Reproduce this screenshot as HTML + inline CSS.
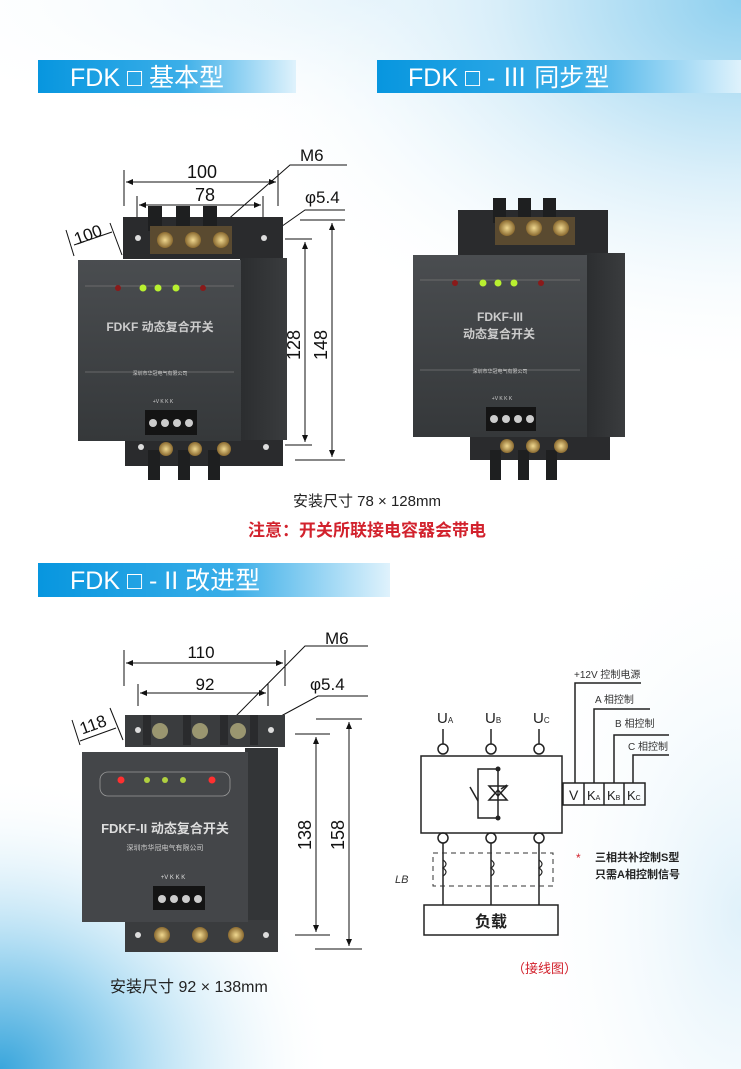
<!DOCTYPE html>
<html><head><meta charset="utf-8"><style>
html,body{margin:0;padding:0;width:741px;height:1069px;overflow:hidden;background:#fff}
svg{display:block}
text{font-family:"Liberation Sans","Noto Sans CJK SC",sans-serif}
</style></head><body>
<svg width="741" height="1069" viewBox="0 0 741 1069" xmlns="http://www.w3.org/2000/svg">
<defs>
<radialGradient id="bgTR" cx="1" cy="0" r="1"><stop offset="0" stop-color="#8fd0ef"/><stop offset="0.45" stop-color="#d8eef9"/><stop offset="1" stop-color="#fff" stop-opacity="0"/></radialGradient>
<radialGradient id="bgTL" cx="0.5" cy="0" r="0.7"><stop offset="0" stop-color="#e4f3fb"/><stop offset="1" stop-color="#fff" stop-opacity="0"/></radialGradient>
<radialGradient id="bgBL" cx="0" cy="1" r="0.8"><stop offset="0" stop-color="#3aa6dc"/><stop offset="0.4" stop-color="#a9daf2"/><stop offset="1" stop-color="#fff" stop-opacity="0"/></radialGradient>
<radialGradient id="bgBR" cx="1" cy="0.7" r="0.8"><stop offset="0" stop-color="#e0f1fa"/><stop offset="1" stop-color="#fff" stop-opacity="0"/></radialGradient>
<linearGradient id="bar" x1="0" x2="1"><stop offset="0" stop-color="#0796df"/><stop offset="0.55" stop-color="#3aaee8"/><stop offset="1" stop-color="#dff2fc"/></linearGradient>
<linearGradient id="front" x1="0" x2="0" y1="0" y2="1"><stop offset="0" stop-color="#4a4d50"/><stop offset="1" stop-color="#35383a"/></linearGradient>
<linearGradient id="side" x1="0" x2="1"><stop offset="0" stop-color="#2b2d2f"/><stop offset="1" stop-color="#3a3c3e"/></linearGradient>
<radialGradient id="scr"><stop offset="0" stop-color="#f0d890"/><stop offset="1" stop-color="#8a6a30"/></radialGradient>
</defs>
<rect width="741" height="1069" fill="#fff"/>
<rect x="0" y="0" width="741" height="200" fill="url(#bgTL)"/>
<rect x="200" y="0" width="541" height="380" fill="url(#bgTR)"/>
<rect x="0" y="700" width="420" height="369" fill="url(#bgBL)"/>
<rect x="450" y="550" width="291" height="519" fill="url(#bgBR)"/>

<!-- header bars -->
<rect x="38" y="60" width="258" height="33" fill="url(#bar)"/>
<text x="70" y="86" font-size="25" fill="#fff">FDK □ 基本型</text>
<rect x="377" y="60" width="364" height="33" fill="url(#bar)"/>
<text x="408" y="86" font-size="25" fill="#fff">FDK □ - Ⅲ 同步型</text>
<rect x="38" y="563" width="352" height="34" fill="url(#bar)"/>
<text x="70" y="589" font-size="25" fill="#fff">FDK □ - II 改进型</text>

<!-- ===== Device 1 ===== -->
<g stroke="#111" stroke-width="1" fill="none">
<line x1="124" y1="170" x2="124" y2="206"/><line x1="278" y1="170" x2="278" y2="206"/>
<line x1="126" y1="182" x2="276" y2="182"/>
<line x1="137" y1="196" x2="137" y2="218"/><line x1="263" y1="196" x2="263" y2="218"/>
<line x1="139" y1="205" x2="261" y2="205"/>
<polyline points="225,222 290,165 347,165"/>
<polyline points="268,236 305,210 345,210"/>
<line x1="285" y1="239" x2="312" y2="239"/><line x1="285" y1="445" x2="312" y2="445"/>
<line x1="305" y1="242" x2="305" y2="442"/>
<line x1="300" y1="220" x2="345" y2="220"/><line x1="295" y1="460" x2="345" y2="460"/>
<line x1="332" y1="223" x2="332" y2="457"/>
<line x1="74" y1="245" x2="112" y2="232"/>
<line x1="110" y1="223" x2="122" y2="255"/><line x1="66" y1="230" x2="74" y2="256"/>
</g>
<g fill="#111">
<path d="M126,182 l7,-3 v6z"/><path d="M276,182 l-7,-3 v6z"/>
<path d="M139,205 l7,-3 v6z"/><path d="M261,205 l-7,-3 v6z"/>
<path d="M305,242 l-3,7 h6z"/><path d="M305,442 l-3,-7 h6z"/>
<path d="M332,223 l-3,7 h6z"/><path d="M332,457 l-3,-7 h6z"/>
</g>
<text x="202" y="178" font-size="18" text-anchor="middle" fill="#111">100</text>
<text x="205" y="201" font-size="18" text-anchor="middle" fill="#111">78</text>
<text x="300" y="161" font-size="17" fill="#111">M6</text>
<text x="305" y="203" font-size="17" fill="#111">φ5.4</text>
<text transform="translate(90,240) rotate(-20)" font-size="17" text-anchor="middle" fill="#111">100</text>
<text transform="translate(300,345) rotate(-90)" font-size="18" text-anchor="middle" fill="#111">128</text>
<text transform="translate(327,345) rotate(-90)" font-size="18" text-anchor="middle" fill="#111">148</text>

<rect x="123" y="217" width="160" height="42" fill="#2a2b2d"/>
<rect x="148" y="206" width="14" height="25" fill="#1e1f20"/><rect x="176" y="206" width="14" height="25" fill="#1e1f20"/><rect x="203" y="206" width="14" height="25" fill="#1e1f20"/>
<rect x="150" y="226" width="82" height="28" fill="#5a4a30"/>
<circle cx="165" cy="240" r="8" fill="url(#scr)"/><circle cx="193" cy="240" r="8" fill="url(#scr)"/><circle cx="221" cy="240" r="8" fill="url(#scr)"/>
<circle cx="138" cy="238" r="3" fill="#ddd"/><circle cx="264" cy="238" r="3" fill="#ddd"/>
<rect x="125" y="438" width="158" height="28" fill="#2a2b2d"/>
<rect x="148" y="450" width="12" height="30" fill="#1e1f20"/><rect x="178" y="450" width="12" height="30" fill="#1e1f20"/><rect x="208" y="450" width="12" height="30" fill="#1e1f20"/>
<circle cx="166" cy="449" r="7" fill="url(#scr)"/><circle cx="195" cy="449" r="7" fill="url(#scr)"/><circle cx="224" cy="449" r="7" fill="url(#scr)"/>
<circle cx="141" cy="447" r="3" fill="#ddd"/><circle cx="266" cy="447" r="3" fill="#ddd"/>
<rect x="240" y="258" width="47" height="182" fill="url(#side)"/>
<rect x="78" y="260" width="163" height="181" fill="url(#front)"/>
<line x1="85" y1="286" x2="234" y2="286" stroke="#777" stroke-width="0.7"/>
<circle cx="118" cy="288" r="3" fill="#8a1a1a"/><circle cx="143" cy="288" r="3.5" fill="#b8f030"/><circle cx="158" cy="288" r="3.5" fill="#b8f030"/><circle cx="176" cy="288" r="3.5" fill="#b8f030"/><circle cx="203" cy="288" r="3" fill="#8a1a1a"/>
<text x="160" y="331" font-size="12" font-weight="bold" text-anchor="middle" fill="#ccc">FDKF 动态复合开关</text>
<line x1="85" y1="372" x2="234" y2="372" stroke="#777" stroke-width="0.7"/>
<text x="160" y="375" font-size="5" text-anchor="middle" fill="#ccc">深圳市华冠电气有限公司</text>
<text x="163" y="403" font-size="5" text-anchor="middle" fill="#ccc">+V K  K  K</text>
<rect x="145" y="410" width="52" height="25" fill="#141414"/>
<circle cx="153" cy="423" r="4" fill="#ccc"/><circle cx="165" cy="423" r="4" fill="#ccc"/><circle cx="177" cy="423" r="4" fill="#ccc"/><circle cx="189" cy="423" r="4" fill="#ccc"/>

<!-- ===== Device 2 ===== -->
<rect x="458" y="210" width="150" height="45" fill="#2a2b2d"/>
<rect x="493" y="198" width="13" height="25" fill="#1e1f20"/><rect x="518" y="198" width="13" height="25" fill="#1e1f20"/><rect x="543" y="198" width="13" height="25" fill="#1e1f20"/>
<rect x="495" y="217" width="80" height="28" fill="#5a4a30"/>
<circle cx="507" cy="228" r="8" fill="url(#scr)"/><circle cx="534" cy="228" r="8" fill="url(#scr)"/><circle cx="561" cy="228" r="8" fill="url(#scr)"/>
<rect x="470" y="435" width="140" height="25" fill="#2a2b2d"/>
<rect x="490" y="450" width="11" height="30" fill="#1e1f20"/><rect x="518" y="450" width="11" height="30" fill="#1e1f20"/><rect x="546" y="450" width="11" height="30" fill="#1e1f20"/>
<circle cx="507" cy="446" r="7" fill="url(#scr)"/><circle cx="533" cy="446" r="7" fill="url(#scr)"/><circle cx="561" cy="446" r="7" fill="url(#scr)"/>
<rect x="585" y="253" width="40" height="184" fill="url(#side)"/>
<rect x="413" y="255" width="174" height="182" fill="url(#front)"/>
<line x1="420" y1="280" x2="580" y2="280" stroke="#777" stroke-width="0.7"/>
<circle cx="455" cy="283" r="3" fill="#8a1a1a"/><circle cx="483" cy="283" r="3.5" fill="#b8f030"/><circle cx="498" cy="283" r="3.5" fill="#b8f030"/><circle cx="514" cy="283" r="3.5" fill="#b8f030"/><circle cx="541" cy="283" r="3" fill="#8a1a1a"/>
<text x="500" y="321" font-size="12" font-weight="bold" text-anchor="middle" fill="#ccc">FDKF-III</text>
<text x="499" y="338" font-size="12" font-weight="bold" text-anchor="middle" fill="#ccc">动态复合开关</text>
<line x1="420" y1="370" x2="580" y2="370" stroke="#777" stroke-width="0.7"/>
<text x="500" y="373" font-size="5" text-anchor="middle" fill="#ccc">深圳市华冠电气有限公司</text>
<text x="502" y="400" font-size="5" text-anchor="middle" fill="#ccc">+V K  K  K</text>
<rect x="486" y="407" width="50" height="24" fill="#141414"/>
<circle cx="494" cy="419" r="4" fill="#ccc"/><circle cx="506" cy="419" r="4" fill="#ccc"/><circle cx="518" cy="419" r="4" fill="#ccc"/><circle cx="530" cy="419" r="4" fill="#ccc"/>

<text x="367" y="506" font-size="15" text-anchor="middle" fill="#222">安装尺寸  78 × 128mm</text>
<text x="367" y="536" font-size="17" font-weight="bold" text-anchor="middle" fill="#d2222d">注意：开关所联接电容器会带电</text>

<!-- ===== Device 3 ===== -->
<g stroke="#111" stroke-width="1" fill="none">
<line x1="124" y1="650" x2="124" y2="686"/><line x1="285" y1="650" x2="285" y2="686"/>
<line x1="126" y1="663" x2="283" y2="663"/>
<line x1="138" y1="684" x2="138" y2="706"/><line x1="268" y1="684" x2="268" y2="706"/>
<line x1="140" y1="693" x2="266" y2="693"/>
<polyline points="236,716 305,646 368,646"/>
<polyline points="270,722 318,696 368,696"/>
<line x1="295" y1="734" x2="330" y2="734"/><line x1="295" y1="935" x2="330" y2="935"/>
<line x1="316" y1="737" x2="316" y2="932"/>
<line x1="316" y1="719" x2="362" y2="719"/><line x1="315" y1="949" x2="362" y2="949"/>
<line x1="349" y1="722" x2="349" y2="946"/>
<line x1="80" y1="741" x2="116" y2="728"/><line x1="110" y1="708" x2="123" y2="740"/><line x1="72" y1="720" x2="80" y2="745"/>
</g>
<g fill="#111">
<path d="M126,663 l7,-3 v6z"/><path d="M283,663 l-7,-3 v6z"/>
<path d="M140,693 l7,-3 v6z"/><path d="M266,693 l-7,-3 v6z"/>
<path d="M316,737 l-3,7 h6z"/><path d="M316,932 l-3,-7 h6z"/>
<path d="M349,722 l-3,7 h6z"/><path d="M349,946 l-3,-7 h6z"/>
</g>
<text x="201" y="658" font-size="17" text-anchor="middle" fill="#111">110</text>
<text x="205" y="690" font-size="17" text-anchor="middle" fill="#111">92</text>
<text x="325" y="644" font-size="17" fill="#111">M6</text>
<text x="310" y="690" font-size="17" fill="#111">φ5.4</text>
<text transform="translate(95,730) rotate(-20)" font-size="17" text-anchor="middle" fill="#111">118</text>
<text transform="translate(311,835) rotate(-90)" font-size="18" text-anchor="middle" fill="#111">138</text>
<text transform="translate(344,835) rotate(-90)" font-size="18" text-anchor="middle" fill="#111">158</text>

<rect x="125" y="715" width="160" height="32" fill="#3a3c3e"/>
<rect x="143" y="715" width="8" height="30" fill="#2a2b2d"/><rect x="183" y="715" width="8" height="30" fill="#2a2b2d"/><rect x="220" y="715" width="8" height="30" fill="#2a2b2d"/><rect x="250" y="715" width="8" height="30" fill="#2a2b2d"/>
<circle cx="160" cy="731" r="8" fill="#9a9670"/><circle cx="200" cy="731" r="8" fill="#9a9670"/><circle cx="238" cy="731" r="8" fill="#9a9670"/>
<circle cx="138" cy="730" r="3" fill="#ddd"/><circle cx="271" cy="730" r="3" fill="#ddd"/>
<rect x="125" y="918" width="153" height="34" fill="#3a3c3e"/>
<circle cx="162" cy="935" r="8" fill="url(#scr)"/><circle cx="200" cy="935" r="8" fill="url(#scr)"/><circle cx="236" cy="935" r="8" fill="url(#scr)"/>
<circle cx="138" cy="935" r="3" fill="#ddd"/><circle cx="266" cy="935" r="3" fill="#ddd"/>
<rect x="245" y="748" width="33" height="172" fill="#333537"/>
<rect x="82" y="752" width="166" height="170" fill="#444649"/>
<rect x="100" y="772" width="130" height="24" rx="8" fill="none" stroke="#999" stroke-width="0.8"/>
<circle cx="121" cy="780" r="3.5" fill="#ff3030"/><circle cx="147" cy="780" r="3" fill="#b0d040"/><circle cx="165" cy="780" r="3" fill="#b0d040"/><circle cx="183" cy="780" r="3" fill="#b0d040"/><circle cx="212" cy="780" r="3.5" fill="#ff3030"/>
<text x="165" y="833" font-size="13" font-weight="bold" text-anchor="middle" fill="#ddd">FDKF-II 动态复合开关</text>
<text x="165" y="850" font-size="7" text-anchor="middle" fill="#ccc">深圳市华冠电气有限公司</text>
<text x="173" y="879" font-size="6" text-anchor="middle" fill="#ddd">+V  K  K  K</text>
<rect x="153" y="886" width="52" height="24" fill="#141414"/>
<circle cx="162" cy="899" r="4" fill="#ccc"/><circle cx="174" cy="899" r="4" fill="#ccc"/><circle cx="186" cy="899" r="4" fill="#ccc"/><circle cx="198" cy="899" r="4" fill="#ccc"/>
<text x="110" y="992" font-size="16" fill="#222">安装尺寸  92 × 138mm</text>

<!-- ===== Wiring diagram ===== -->
<g stroke="#222" stroke-width="1.5" fill="none">
<rect x="421" y="756" width="141" height="77"/>
<circle cx="443" cy="749" r="5"/><circle cx="491" cy="749" r="5"/><circle cx="539" cy="749" r="5"/>
<line x1="443" y1="729" x2="443" y2="744"/><line x1="491" y1="729" x2="491" y2="744"/><line x1="539" y1="729" x2="539" y2="744"/>
<circle cx="443" cy="838" r="5"/><circle cx="491" cy="838" r="5"/><circle cx="539" cy="838" r="5"/>
<line x1="443" y1="843" x2="443" y2="905"/><line x1="491" y1="843" x2="491" y2="905"/><line x1="539" y1="843" x2="539" y2="905"/>
<rect x="424" y="905" width="134" height="30"/>
<rect x="563" y="783" width="82" height="22"/>
<line x1="584" y1="783" x2="584" y2="805"/><line x1="604" y1="783" x2="604" y2="805"/><line x1="624" y1="783" x2="624" y2="805"/>
<polyline points="575,783 575,683 641,683"/>
<polyline points="594,783 594,709 650,709"/>
<polyline points="614,783 614,735 669,735"/>
<polyline points="633,783 633,755 669,755"/>
<polyline points="498,769 478,769 478,818 498,818"/>
<line x1="498" y1="769" x2="498" y2="818"/>
<line x1="470" y1="787" x2="478" y2="801"/>
<path d="M489,786 h18 l-9,10z M489,800 h18 l-9,-10z"/>
<path d="M501,789 l6,-4"/>
</g>
<circle cx="498" cy="769" r="2.5" fill="#222"/><circle cx="498" cy="818" r="2.5" fill="#222"/>
<rect x="433" y="853" width="120" height="33" fill="none" stroke="#333" stroke-dasharray="5,4"/>
<g stroke="#222" stroke-width="1.2" fill="none">
<path d="M443,860 q6,4 0,8 q6,4 0,8"/><path d="M491,860 q6,4 0,8 q6,4 0,8"/><path d="M539,860 q6,4 0,8 q6,4 0,8"/>
</g>
<g font-family="Liberation Serif,serif" fill="#222">
<text x="437" y="723" font-size="15">U<tspan font-size="8">A</tspan></text>
<text x="485" y="723" font-size="15">U<tspan font-size="8">B</tspan></text>
<text x="533" y="723" font-size="15">U<tspan font-size="8">C</tspan></text>
<text x="569" y="800" font-size="14">V</text>
<text x="587" y="800" font-size="13">K<tspan font-size="7">A</tspan></text>
<text x="607" y="800" font-size="13">K<tspan font-size="7">B</tspan></text>
<text x="627" y="800" font-size="13">K<tspan font-size="7">C</tspan></text>
</g>
<text x="574" y="678" font-size="10" fill="#333">+12V 控制电源</text>
<text x="595" y="703" font-size="10" fill="#333">A 相控制</text>
<text x="615" y="727" font-size="10" fill="#333">B 相控制</text>
<text x="628" y="750" font-size="10" fill="#333">C 相控制</text>
<text x="491" y="927" font-size="16" font-weight="bold" text-anchor="middle" fill="#222">负载</text>
<text x="395" y="883" font-size="11" font-style="italic" fill="#333">LB</text>
<text x="576" y="862" font-size="12" fill="#d2222d">*</text>
<text x="595" y="861" font-size="11" font-weight="bold" fill="#222">三相共补控制S型</text>
<text x="595" y="878" font-size="11" font-weight="bold" fill="#222">只需A相控制信号</text>
<text x="512" y="973" font-size="13" fill="#d2222d">（接线图）</text>
</svg>
</body></html>
